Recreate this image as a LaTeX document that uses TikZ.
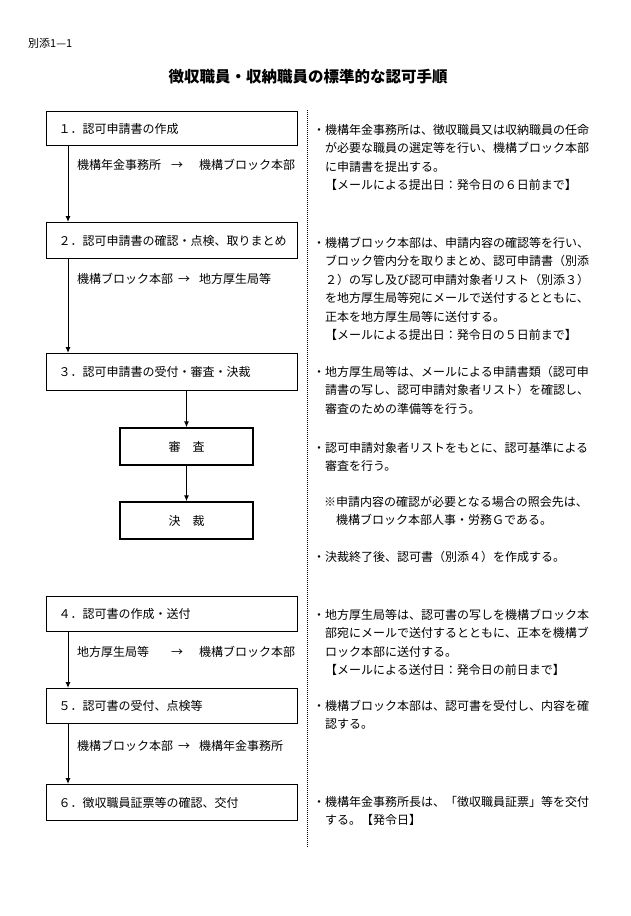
\documentclass[tikz,border=0pt]{standalone}
\usepackage{fontspec}
\setmainfont{Noto Sans CJK JP}
\usepackage{tikz}
\usetikzlibrary{arrows.meta, positioning, calc}

\newcommand{\routelabel}[2]{\makebox[122pt][l]{#1\hspace{5pt}\hfill→\hspace{16pt}}#2}

\begin{document}
\begin{tikzpicture}[
			x=1pt, y=-1pt,
			>={Latex[length=6pt,width=5pt]},
			stepbox/.style={rectangle, draw=black, line width=1.4pt, minimum width=251pt, minimum height=35pt, text width=227pt, inner xsep=12pt, align=left, anchor=north west, font=\fontsize{12}{14}\selectfont},
			subbox/.style={rectangle, draw=black, line width=1.4pt, minimum width=133pt, minimum height=37pt, font=\fontsize{12}{14}\selectfont},
			route/.style={anchor=west, inner sep=0pt, font=\fontsize{12}{14}\selectfont},
			note/.style={anchor=north west, inner sep=0pt, align=left, font=\fontsize{12}{18.5}\selectfont},
			arrow/.style={->, line width=1pt, color=black},
			divider/.style={densely dotted, line width=1pt}
			]
			\useasboundingbox (0,0) rectangle (630,916);
			
			% --- Header ---
			\node[anchor=west, inner sep=0pt, font=\fontsize{11}{13}\selectfont] (annex) at (28,43) {別添1—1};
			\node[inner sep=0pt, font=\fontsize{15.5}{18}\selectfont\bfseries] (title) at (308,77) {徴収職員・収納職員の標準的な認可手順};
			
			% --- Left Column: Steps ---
			\node[stepbox, minimum height=34pt] (step1) at (46,111) {１．認可申請書の作成};
			\node[stepbox, minimum height=36pt] (step2) at (46,222) {２．認可申請書の確認・点検、取りまとめ};
			\node[stepbox, minimum height=37pt] (step3) at (46,353) {３．認可申請書の受付・審査・決裁};
			\node[subbox] (shinsa) at (186.5,446.5) {審\hspace{12pt}査};
			\node[subbox] (kessai) at (186.5,520.5) {決\hspace{12pt}裁};
			\node[stepbox, minimum height=35pt] (step4) at (46,596) {４．認可書の作成・送付};
			\node[stepbox, minimum height=35pt] (step5) at (46,688) {５．認可書の受付、点検等};
			\node[stepbox, minimum height=36pt] (step6) at (46,784) {６．徴収職員証票等の確認、交付};
			
			% --- Routing Labels ---
			\node[route] (route1) at (77,165) {\routelabel{機構年金事務所}{機構ブロック本部}};
			\node[route] (route2) at (77,279) {\routelabel{機構ブロック本部}{地方厚生局等}};
			\node[route] (route4) at (77,652) {\routelabel{地方厚生局等}{機構ブロック本部}};
			\node[route] (route5) at (77,746) {\routelabel{機構ブロック本部}{機構年金事務所}};
			
			% --- Forward Arrows ---
			\draw[arrow] ([xshift=22pt]step1.south west) -- ([xshift=22pt]step2.north west);
			\draw[arrow] ([xshift=22pt]step2.south west) -- ([xshift=22pt]step3.north west);
			\draw[arrow] (step3.south -| shinsa.north) -- (shinsa.north);
			\draw[arrow] (shinsa.south) -- (kessai.north);
			\draw[arrow] ([xshift=22pt]step4.south west) -- ([xshift=22pt]step5.north west);
			\draw[arrow] ([xshift=22pt]step5.south west) -- ([xshift=22pt]step6.north west);
			
			% --- Divider ---
			\draw[divider] (307,110) -- (307,848);
			
			% --- Right Column: Notes ---
			\node[note] (note1) at (313,124) {・機構年金事務所は、徴収職員又は収納職員の任命\\　が必要な職員の選定等を行い、機構ブロック本部\\　に申請書を提出する。\\　【メールによる提出日：発令日の６日前まで】};
			\node[note] (note2) at (313,237) {・機構ブロック本部は、申請内容の確認等を行い、\\　ブロック管内分を取りまとめ、認可申請書（別添\\　２）の写し及び認可申請対象者リスト（別添３）\\　を地方厚生局等宛にメールで送付するとともに、\\　正本を地方厚生局等に送付する。\\　【メールによる提出日：発令日の５日前まで】};
			\node[note] (note3) at (313,366) {・地方厚生局等は、メールによる申請書類（認可申\\　請書の写し、認可申請対象者リスト）を確認し、\\　審査のための準備等を行う。};
			\node[note] (note_shinsa) at (313,442) {・認可申請対象者リストをもとに、認可基準による\\　審査を行う。};
			\node[note] (note_contact) at (324,496) {※申請内容の確認が必要となる場合の照会先は、\\　機構ブロック本部人事・労務Ｇである。};
			\node[note] (note_kessai) at (313,551) {・決裁終了後、認可書（別添４）を作成する。};
			\node[note] (note4) at (313,609) {・地方厚生局等は、認可書の写しを機構ブロック本\\　部宛にメールで送付するとともに、正本を機構ブ\\　ロック本部に送付する。\\　【メールによる送付日：発令日の前日まで】};
			\node[note] (note5) at (313,700) {・機構ブロック本部は、認可書を受付し、内容を確\\　認する。};
			\node[note] (note6) at (313,796) {・機構年金事務所長は、「徴収職員証票」等を交付\\　する。【発令日】};
			
			\end{tikzpicture}
\end{document}
